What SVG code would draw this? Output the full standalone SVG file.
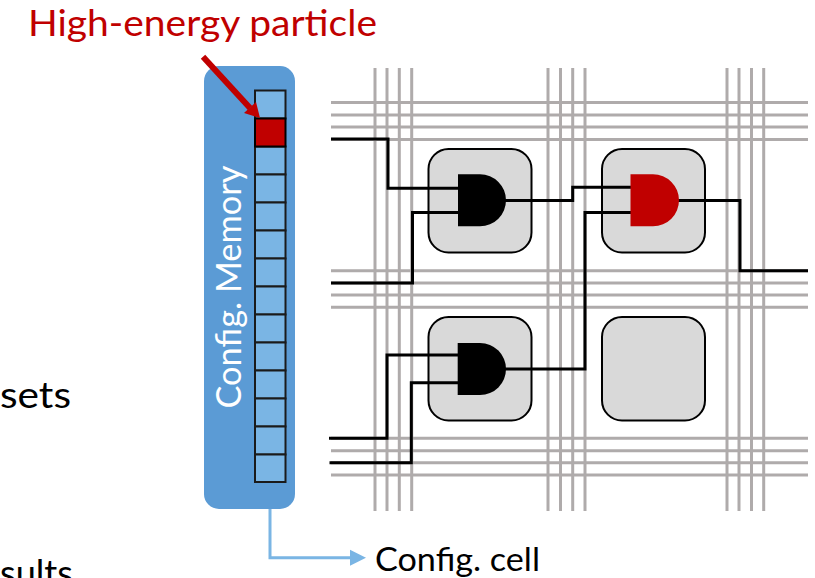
<svg xmlns="http://www.w3.org/2000/svg" width="815" height="578" viewBox="0 0 815 578">
<style>
text{font-family:"Lato","Liberation Sans",sans-serif}
.g{stroke:#AFABAB;stroke-width:3;fill:none}
.w{stroke:#000;stroke-width:3;fill:none;stroke-linejoin:miter}
.box{fill:#D9D9D9;stroke:#000;stroke-width:2}
.cell{fill:#7AB5E4;stroke:#1a1a1a;stroke-width:2}
</style>
<rect width="815" height="578" fill="#fff"/>
<g id="grid">
<path class="g" d="M375 68V511M387 68V511M399.300 68V511M411.700 68V511M548 68V511M560.500 68V511M572.700 68V511M585 68V511M727 68V511M739 68V511M751.500 68V511M763.700 68V511"/>
<path class="g" d="M331 102.500H808M331 115H808M331 127H808M331 139.500H808M331 270.700H808M331 283H808M331 295H808M331 307.300H808M331 438.300H808M331 450.700H808M331 462.700H808M331 475H808"/>
</g>
<g id="block1"><rect class="box" x="428.500" y="149" width="103" height="103.500" rx="20"/></g>
<g id="block2"><rect class="box" x="602" y="149" width="103" height="103.500" rx="20"/></g>
<g id="block3"><rect class="box" x="428.500" y="317" width="103" height="103.500" rx="20"/></g>
<g id="block4"><rect class="box" x="602" y="317" width="103" height="103.500" rx="20"/></g>
<g id="connectors">
<path class="w" d="M331 139H388V188.300H460"/>
<path class="w" d="M331 283H412.500V212.500H460"/>
<path class="w" d="M500 200.500H572.700V187.300H633"/>
<path class="w" d="M500 369H585V212.500H633"/>
<path class="w" d="M674 200.500H740V270.700H808"/>
<path class="w" d="M329 438.300H387V355H460"/>
<path class="w" d="M329.500 462.700H411.300V382.700H460"/>
<path d="M270 482V557.700H352" fill="none" stroke="#7AB5E4" stroke-width="3"/>
<polygon points="366,557.700 350,549.700 350,565.700" fill="#7AB5E4"/>
</g>
<g id="gate1"><path d="M458 174.300H480A26 26 0 0 1 480 226.300H458Z" fill="#000"/></g>
<g id="gate2"><path d="M630.500 174.300H653A26 26 0 0 1 653 226.300H630.500Z" fill="#C00000"/></g>
<g id="gate3"><path d="M457.700 343H480A26 26 0 0 1 480 395H457.700Z" fill="#000"/></g>
<g id="memory">
<rect x="204" y="66" width="91" height="443" rx="15" fill="#5B9BD5"/>
<text transform="translate(241 408.500) rotate(-90)" font-size="34" fill="#fff" textLength="243" lengthAdjust="spacingAndGlyphs">Config. Memory</text>
<rect class="cell" x="255" y="90.500" width="30.500" height="28"/>
<rect class="cell" x="255" y="146.500" width="30.500" height="28"/>
<rect class="cell" x="255" y="174.500" width="30.500" height="28"/>
<rect class="cell" x="255" y="202.500" width="30.500" height="28"/>
<rect class="cell" x="255" y="230.500" width="30.500" height="28"/>
<rect class="cell" x="255" y="258.500" width="30.500" height="28"/>
<rect class="cell" x="255" y="286.500" width="30.500" height="28"/>
<rect class="cell" x="255" y="314.500" width="30.500" height="28"/>
<rect class="cell" x="255" y="342.500" width="30.500" height="28"/>
<rect class="cell" x="255" y="370.500" width="30.500" height="28"/>
<rect class="cell" x="255" y="398.500" width="30.500" height="28"/>
<rect class="cell" x="255" y="426.500" width="30.500" height="28"/>
<rect class="cell" x="255" y="454.500" width="30.500" height="27.500"/>
<rect x="255" y="118.500" width="30.500" height="28" fill="#C00000" stroke="#000" stroke-width="2"/>
</g>
<g id="particle">
<path d="M203 56.700L250 108" stroke="#C00000" stroke-width="6" fill="none"/>
<polygon points="260,118 244,113 256,102" fill="#C00000"/>
<text x="28" y="36" font-size="36" fill="#C00000" textLength="349" lengthAdjust="spacingAndGlyphs">High-energy particle</text>
</g>
<text x="375" y="571" font-size="32" fill="#000" textLength="165" lengthAdjust="spacingAndGlyphs">Config. cell</text>
<text x="0" y="408" font-size="36" fill="#000" textLength="71" lengthAdjust="spacingAndGlyphs">sets</text>
<text x="0" y="586" font-size="36" fill="#000" textLength="73" lengthAdjust="spacingAndGlyphs">sults</text>
</svg>
